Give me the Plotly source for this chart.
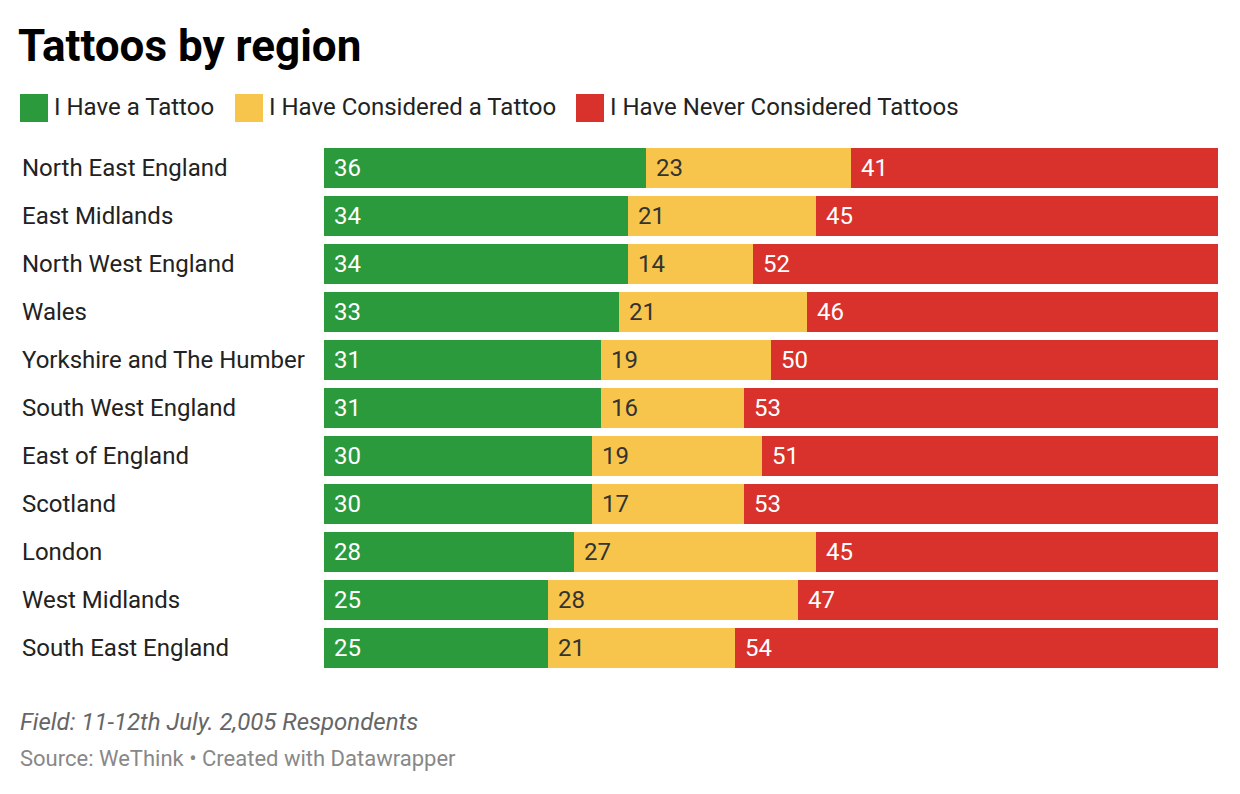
import plotly.graph_objects as go

regions = ["North East England", "East Midlands", "North West England", "Wales",
           "Yorkshire and The Humber", "South West England", "East of England",
           "Scotland", "London", "West Midlands", "South East England"]
have = [36, 34, 34, 33, 31, 31, 30, 30, 28, 25, 25]
considered = [23, 21, 14, 21, 19, 16, 19, 17, 27, 28, 21]
never = [41, 45, 52, 46, 50, 53, 51, 53, 45, 47, 54]
series_names = ["I Have a Tattoo", "I Have Considered a Tattoo", "I Have Never Considered Tattoos"]
colors = ["#2a9a3c", "#f8c54c", "#d9312b"]
text_colors = ["#ffffff", "#333333", "#ffffff"]

OFF = 8  # page body margin
W, H = 1240 - OFF, 794 - OFF
PL, PR, PT, PB = 324, 1218, 144, 672
L, T = PL - OFF, PT - OFF
R, B = W - (PR - OFF), H - (PB - OFF)
pw, ph = PR - PL, PB - PT

def px(x):
    return (x - PL) / pw

def py(y):
    return (PB - y) / ph

FONT = "Roboto"
fig = go.Figure()
series = [have, considered, never]
for name, vals, col in zip(series_names, series, colors):
    fig.add_trace(go.Bar(
        y=regions, x=vals, name=name, orientation="h",
        marker=dict(color=col, line=dict(width=0)),
        hoverinfo="x+name", showlegend=False,
    ))

annotations = []
for i, reg in enumerate(regions):
    base = 0
    for s, vals in enumerate(series):
        annotations.append(dict(
            x=base, y=reg, xref="x", yref="y", text=str(vals[i]),
            xanchor="left", yanchor="middle", xshift=8, showarrow=False,
            font=dict(family=FONT, size=24, color=text_colors[s]),
        ))
        base += vals[i]
    annotations.append(dict(
        x=px(20), y=reg, xref="paper", yref="y", text=reg,
        xanchor="left", yanchor="middle", showarrow=False,
        font=dict(family=FONT, size=24, color="#222222"),
    ))

shapes = []
legend_sq = [20, 235, 576]
for name, col, sx in zip(series_names, colors, legend_sq):
    shapes.append(dict(type="rect", xref="paper", yref="paper",
                       x0=px(sx), x1=px(sx + 28), y0=py(122), y1=py(94),
                       fillcolor=col, line=dict(width=0)))
    annotations.append(dict(
        x=px(sx + 32), y=py(107), xref="paper", yref="paper", text=name,
        xanchor="left", yanchor="middle", showarrow=False,
        font=dict(family=FONT, size=24, color="#222222"),
    ))

annotations.append(dict(
    x=px(18), y=py(722), xref="paper", yref="paper",
    text="<i>Field: 11-12th July. 2,005 Respondents</i>",
    xanchor="left", yanchor="middle", showarrow=False,
    font=dict(family=FONT, size=24, color="#666666"),
))
annotations.append(dict(
    x=px(18), y=py(758), xref="paper", yref="paper",
    text="Source: WeThink • Created with Datawrapper",
    xanchor="left", yanchor="middle", showarrow=False,
    font=dict(family=FONT, size=22, color="#888888"),
))

fig.update_layout(
    width=W, height=H,
    margin=dict(l=L, r=R, t=T, b=B, pad=0),
    barmode="stack", bargap=1 / 6,
    paper_bgcolor="#ffffff", plot_bgcolor="#ffffff",
    title=dict(text="<b>Tattoos by region</b>", x=(18 - OFF) / W, xanchor="left",
               xref="container", yref="container", y=1 - (46 - OFF) / H, yanchor="middle",
               font=dict(family=FONT, size=44, color="#000000")),
    xaxis=dict(range=[0, 100], visible=False, fixedrange=True),
    yaxis=dict(categoryorder="array", categoryarray=regions, autorange="reversed",
               showticklabels=False, showgrid=False, zeroline=False, fixedrange=True),
    annotations=annotations, shapes=shapes,
    font=dict(family=FONT),
)

fig.write_html("out.html")
